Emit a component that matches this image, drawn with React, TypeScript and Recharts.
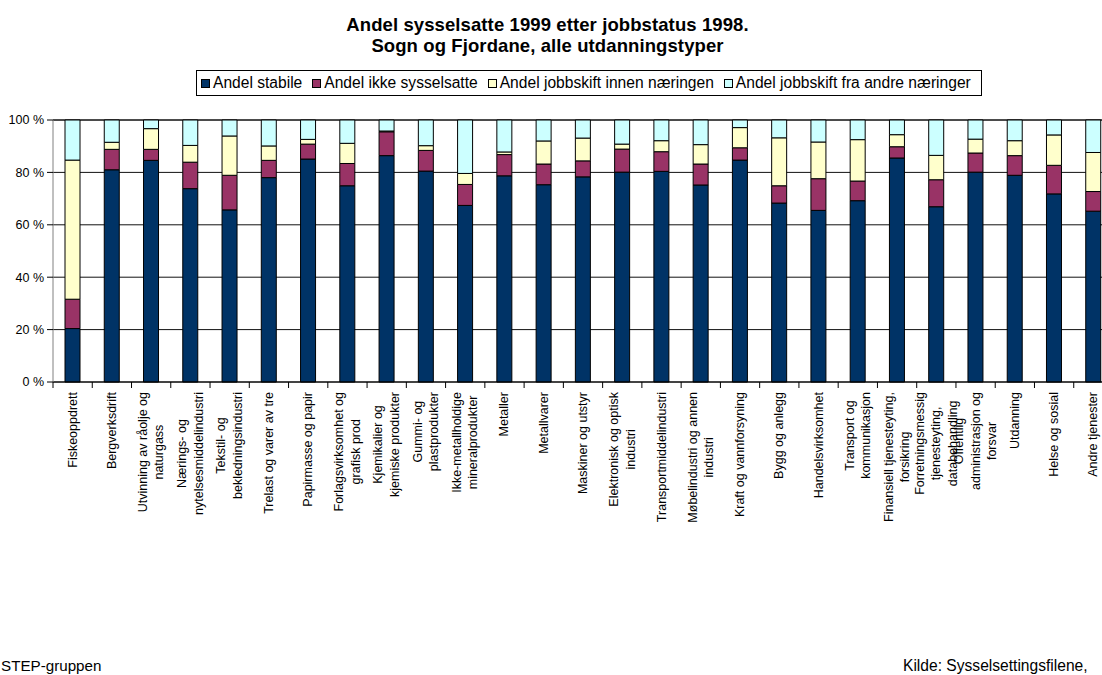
import React from 'react'
import {
  BarChart,
  Bar,
  XAxis,
  YAxis,
  CartesianGrid,
  Legend,
} from 'recharts'

const FONT = '"Liberation Sans", Arial, sans-serif'

// categories (line breaks as wrapped in the original)
const categories = [
  'Fiskeoppdrett',
  'Bergverksdrift',
  'Utvinning av råolje og\nnaturgass',
  'Nærings- og\nnytelsesmiddelindustri',
  'Tekstil- og\nbekledningsindustri',
  'Trelast og varer av tre',
  'Papirmasse og papir',
  'Forlagsvirksomhet og\ngrafisk prod',
  'Kjemikalier og\nkjemiske produkter',
  'Gummi- og\nplastprodukter',
  'Ikke-metallholdige\nmineralprodukter',
  'Metaller',
  'Metallvarer',
  'Maskiner og utstyr',
  'Elektronisk og optisk\nindustri',
  'Transportmiddelindustri',
  'Møbelindustri og annen\nindustri',
  'Kraft og vannforsyning',
  'Bygg og anlegg',
  'Handelsvirksomhet',
  'Transport og\nkommunikasjon',
  'Finansiell tjenesteyting,\nforsikring',
  'Forretningsmessig\ntjenesteyting,\ndatabehandling',
  'Offentlig\nadministrasjon og\nforsvar',
  'Utdanning',
  'Helse og sosial',
  'Andre tjenester',
]

const stabile = [20.4, 81.0, 84.6, 73.8, 65.7, 78.0, 85.1, 74.9, 86.4, 80.5, 67.4, 78.7, 75.3, 78.3, 80.1, 80.4, 75.2, 84.7, 68.3, 65.5, 69.2, 85.5, 66.9, 80.1, 78.9, 71.8, 65.2]
const ikkeSysselsatte = [11.2, 7.8, 4.2, 10.1, 13.2, 6.6, 5.7, 8.5, 9.1, 7.9, 8.0, 8.1, 7.9, 6.1, 8.8, 7.5, 8.0, 4.7, 6.6, 12.1, 7.5, 4.3, 10.3, 7.3, 7.5, 10.9, 7.5]
const skiftInnen = [53.1, 2.7, 7.9, 6.4, 15.0, 5.5, 1.8, 7.7, 0.3, 1.8, 4.2, 1.0, 8.8, 8.7, 1.9, 4.2, 7.4, 7.7, 18.3, 14.0, 15.8, 4.6, 9.3, 5.3, 5.7, 11.6, 14.9]
const skiftFra = [15.3, 8.5, 3.3, 9.7, 6.1, 9.9, 7.4, 8.9, 4.2, 9.8, 20.4, 12.2, 8.0, 6.9, 9.2, 7.9, 9.4, 2.9, 6.8, 8.4, 7.5, 5.6, 13.5, 7.3, 7.9, 5.7, 12.4]

const yTicks = [0, 20, 40, 60, 80, 100]

const SERIES = [
  { key: 'stabile', name: 'Andel stabile', color: '#003366' },
  { key: 'ikke', name: 'Andel ikke sysselsatte', color: '#993366' },
  { key: 'innen', name: 'Andel jobbskift innen næringen', color: '#FFFFCC' },
  { key: 'fra', name: 'Andel jobbskift fra andre næringer', color: '#CCFFFF' },
]

const data = categories.map((name, i) => ({
  name,
  stabile: stabile[i],
  ikke: ikkeSysselsatte[i],
  innen: skiftInnen[i],
  fra: skiftFra[i],
}))

const CHART_W = 1120
const CHART_H = 675
const MARGIN = { top: 120, right: 7, left: 0, bottom: 0 }
const Y_W = 53
const PLOT_BOTTOM = 382
const BAND = (CHART_W - MARGIN.left - MARGIN.right - Y_W) / categories.length

const TICK_FS = 12.5
const LINE_H = 16.5

let ctx: CanvasRenderingContext2D | null = null
const textWidth = (s: string) => {
  if (!ctx) ctx = document.createElement('canvas').getContext('2d')
  if (!ctx) return s.length * 6
  ctx.font = `${TICK_FS}px "Liberation Sans"`
  return ctx.measureText(s).width
}

// rotated, wrapped category label + tick marks on the category borders
const CategoryTick = (props: any) => {
  const { x, y, payload, index } = props
  const lines: string[] = String(payload.value).split('\n')
  const maxW = Math.max(...lines.map(textWidth))
  const cy = y + 10 + maxW / 2
  const left = x - BAND / 2
  return (
    <g>
      <line x1={left} x2={left} y1={y} y2={y + 6} stroke="#000" />
      {index === categories.length - 1 && (
        <line x1={x + BAND / 2} x2={x + BAND / 2} y1={y} y2={y + 6} stroke="#000" />
      )}
      {lines.map((ln, i) => {
        const cx = x + (i - (lines.length - 1) / 2) * LINE_H
        return (
          <text
            key={i}
            x={cx}
            y={cy}
            transform={`rotate(-90, ${cx}, ${cy})`}
            textAnchor="middle"
            dominantBaseline="central"
            fontSize={TICK_FS}
            fontFamily={FONT}
            fill="#000"
          >
            {ln}
          </text>
        )
      })}
    </g>
  )
}

const LegendBox = () => (
  <div
    style={{
      display: 'inline-flex',
      alignItems: 'center',
      border: '1px solid #000',
      background: '#fff',
      height: 24,
      padding: '0 10px 0 4px',
      fontFamily: FONT,
      fontSize: 15.6,
      color: '#000',
      whiteSpace: 'nowrap',
    }}
  >
    {SERIES.map((s, i) => (
      <span
        key={s.key}
        style={{ display: 'inline-flex', alignItems: 'center', marginRight: i < SERIES.length - 1 ? 10 : 0 }}
      >
        <span
          style={{
            display: 'inline-block',
            width: 7,
            height: 7,
            border: '1px solid #000',
            background: s.color,
            marginRight: 3,
          }}
        />
        {s.name}
      </span>
    ))}
  </div>
)

export default function App() {
  return (
    <div
      style={{
        position: 'absolute',
        left: 0,
        top: 0,
        width: 1102,
        height: 675,
        overflow: 'hidden',
        background: '#fff',
        fontFamily: FONT,
      }}
    >
      <div
        style={{
          position: 'absolute',
          left: 0,
          top: 13.6,
          width: 1095,
          textAlign: 'center',
          fontWeight: 'bold',
          fontSize: 18.5,
          lineHeight: '21px',
          letterSpacing: 0.1,
          color: '#000',
        }}
      >
        Andel sysselsatte 1999 etter jobbstatus 1998.
        <br />
        Sogn og Fjordane, alle utdanningstyper
      </div>

      <BarChart width={CHART_W} height={CHART_H} data={data} margin={MARGIN} barSize={15}>
        <CartesianGrid vertical={false} stroke="#111" />
        <XAxis
          dataKey="name"
          interval={0}
          height={CHART_H - PLOT_BOTTOM}
          axisLine={{ stroke: '#000' }}
          tickLine={false}
          tickSize={0}
          tickMargin={0}
          tick={<CategoryTick />}
        />
        <YAxis
          width={Y_W}
          domain={[0, 100]}
          ticks={yTicks}
          interval={0}
          tickFormatter={(v) => `${v} %`}
          axisLine={{ stroke: '#808080' }}
          tickLine={{ stroke: '#000' }}
          tickSize={6}
          tickMargin={3}
          tick={{ fontSize: TICK_FS, fontFamily: FONT, fill: '#000' }}
        />
        <Legend
          layout="horizontal"
          verticalAlign="middle"
          align="center"
          wrapperStyle={{ left: 196, top: 70, width: 'auto' }}
          content={<LegendBox />}
        />
        {SERIES.map((s) => (
          <Bar
            key={s.key}
            dataKey={s.key}
            name={s.name}
            stackId="a"
            fill={s.color}
            stroke="#000"
            strokeWidth={1}
            isAnimationActive={false}
          />
        ))}
      </BarChart>

      <div style={{ position: 'absolute', left: 1, top: 656.8, fontSize: 15.2, lineHeight: '17px', color: '#000' }}>
        STEP-gruppen
      </div>
      <div
        style={{
          position: 'absolute',
          left: 903,
          top: 656.6,
          fontSize: 15.6,
          lineHeight: '17px',
          color: '#000',
          whiteSpace: 'nowrap',
        }}
      >
        Kilde: Sysselsettingsfilene,
      </div>
    </div>
  )
}
